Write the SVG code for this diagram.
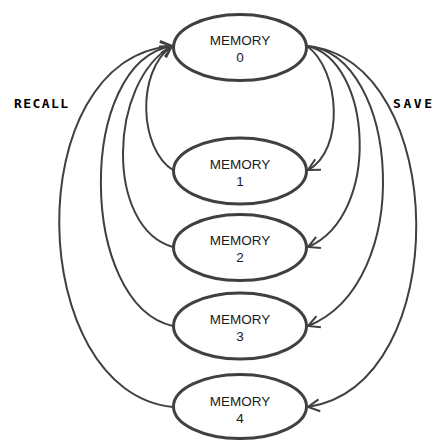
<svg xmlns="http://www.w3.org/2000/svg" width="436" height="440" viewBox="0 0 436 440">
<style>
.node ellipse{fill:#fff;stroke:#404040;stroke-width:3}
.node text{font-family:"Liberation Sans",Arial,sans-serif;font-size:13.5px;fill:#1a1a1a;text-anchor:middle}
.edge{fill:none;stroke:#404040;stroke-width:2}
.lbl{font-family:"DejaVu Sans Mono","Liberation Mono",monospace;font-size:13px;font-weight:bold;fill:#000}
</style>
<defs>
<marker id="arr" markerUnits="userSpaceOnUse" markerWidth="16" markerHeight="16" refX="13" refY="8" orient="auto">
<path d="M1.5,2 L13,8 L1.5,14" fill="none" stroke="#404040" stroke-width="2"/>
</marker>
</defs>
<g id="connectors">
<path class="edge" marker-end="url(#arr)" d="M173,170 C140,150 135,72 172,46"/>
<path class="edge" marker-end="url(#arr)" d="M173,247 C105,228 108,82 172,46"/>
<path class="edge" marker-end="url(#arr)" d="M173,326 C78,305 76,62 172,46"/>
<path class="edge" marker-end="url(#arr)" d="M173,407 C25,392 18,58 172,46"/>
<path class="edge" marker-end="url(#arr)" d="M307,46 C340,70 345,150 308,170"/>
<path class="edge" marker-end="url(#arr)" d="M307,46 C372,60 382,215 308,247"/>
<path class="edge" marker-end="url(#arr)" d="M307,46 C400,55 416,283 308,326"/>
<path class="edge" marker-end="url(#arr)" d="M307,46 C450,60 455,385 308,407"/>
</g>
<g id="memory0" class="node"><ellipse cx="240" cy="47.5" rx="66.5" ry="33"/><text x="240" y="45">MEMORY</text><text x="240" y="62">0</text></g>
<g id="memory1" class="node"><ellipse cx="240" cy="171" rx="66.5" ry="33"/><text x="240" y="168.5">MEMORY</text><text x="240" y="185.5">1</text></g>
<g id="memory2" class="node"><ellipse cx="240" cy="247.5" rx="66.5" ry="33"/><text x="240" y="245">MEMORY</text><text x="240" y="262">2</text></g>
<g id="memory3" class="node"><ellipse cx="240" cy="326" rx="66.5" ry="33"/><text x="240" y="323.5">MEMORY</text><text x="240" y="340.5">3</text></g>
<g id="memory4" class="node"><ellipse cx="240" cy="406.5" rx="66.5" ry="32"/><text x="240" y="406">MEMORY</text><text x="240" y="423">4</text></g>
<g id="labels">
<text class="lbl" x="14" y="108" textLength="54" lengthAdjust="spacing">RECALL</text>
<text class="lbl" x="393" y="108" textLength="39" lengthAdjust="spacing">SAVE</text>
</g>
</svg>
